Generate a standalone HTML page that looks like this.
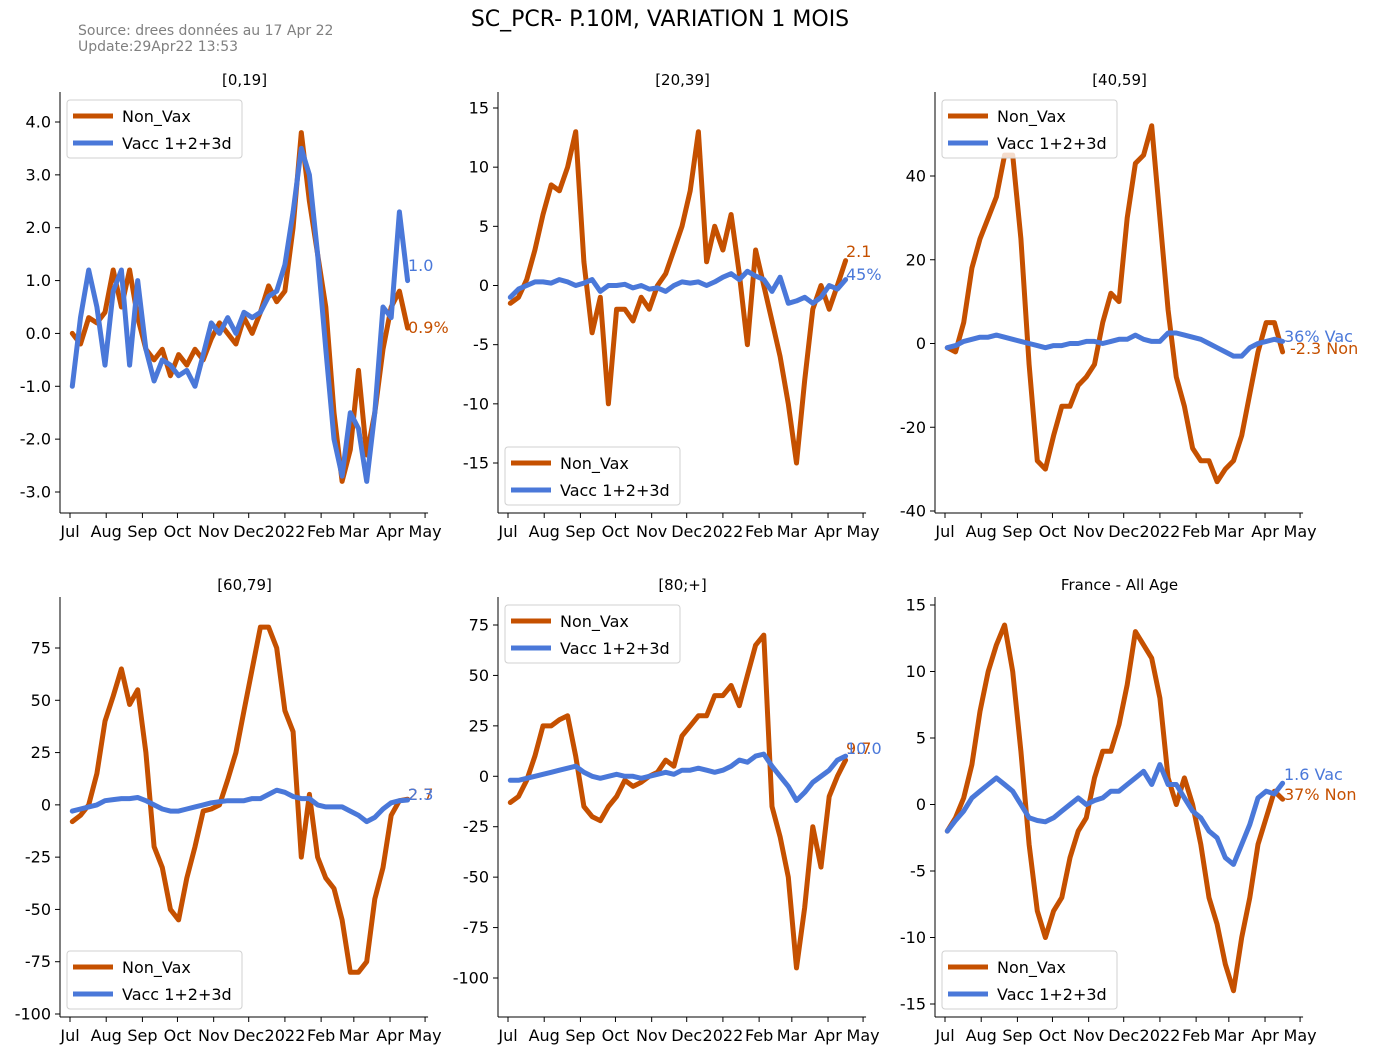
<!DOCTYPE html>
<html><head><meta charset="utf-8">
<style>
body{margin:0;background:#fff;}
svg text{font-family:"DejaVu Sans","Liberation Sans",sans-serif;}
</style></head>
<body>
<svg id="chart" width="1375" height="1055" xmlns="http://www.w3.org/2000/svg">
<rect width="1375" height="1055" fill="#fff"/>
<text x="660" y="26" font-size="22" text-anchor="middle" fill="#000">SC_PCR- P.10M, VARIATION 1 MOIS</text>
<text x="78" y="35" font-size="14" fill="#808080">Source: drees données au 17 Apr 22</text>
<text x="78" y="51" font-size="14" fill="#808080">Update:29Apr22 13:53</text>
</svg>
<script>
const days = [2,9,16,23,30,37,44,51,58,65,72,79,86,93,100,107,114,121,128,135,142,149,156,163,170,177,184,191,198,205,212,219,226,233,240,247,254,261,268,275,282,289];
const monthLabels = ["Jul","Aug","Sep","Oct","Nov","Dec","2022","Feb","Mar","Apr","May"];
const monthDays = [0,31,62,92,123,153,184,215,243,274,304];
const nonVax0 = [0,-0.2,0.3,0.2,0.4,1.2,0.5,1.2,0.3,-0.3,-0.5,-0.3,-0.8,-0.4,-0.6,-0.3,-0.5,-0.1,0.2,0,-0.2,0.3,0,0.4,0.9,0.6,0.8,2.0,3.8,2.5,1.5,0.5,-1.5,-2.8,-2.2,-0.7,-2.3,-1.5,-0.3,0.5,0.8,0.1];
const vacc0 = [-1,0.3,1.2,0.5,-0.6,0.8,1.2,-0.6,1.0,-0.3,-0.9,-0.5,-0.6,-0.8,-0.7,-1.0,-0.4,0.2,0,0.3,0,0.4,0.3,0.4,0.7,0.8,1.3,2.3,3.5,3.0,1.5,-0.3,-2.0,-2.7,-1.5,-1.8,-2.8,-1.5,0.5,0.3,2.3,1.0];
const nonVax1 = [-1.5,-1,0.5,3,6,8.5,8,10,13,2,-4,-1,-10,-2,-2,-3,-1,-2,0,1,3,5,8,13,2,5,3,6,1,-5,3,0,-3,-6,-10,-15,-8,-2,0,-2,0,2.1];
const vacc1 = [-1,-0.3,0,0.3,0.3,0.2,0.5,0.3,0,0.2,0.5,-0.5,0,0,0.1,-0.2,0,-0.3,-0.2,-0.5,0,0.3,0.2,0.3,0,0.3,0.7,1.0,0.5,1.2,0.8,0.5,-0.5,0.7,-1.5,-1.3,-1.0,-1.5,-1,0,-0.3,0.5];
const nonVax2 = [-1,-2,5,18,25,30,35,45,45,25,-5,-28,-30,-22,-15,-15,-10,-8,-5,5,12,10,30,43,45,52,30,8,-8,-15,-25,-28,-28,-33,-30,-28,-22,-12,-2,5,5,-2];
const vacc2 = [-1,-0.5,0.5,1,1.5,1.5,2,1.5,1,0.5,0,-0.5,-1,-0.5,-0.5,0,0,0.5,0.5,0,0.5,1,1,2,1,0.5,0.5,2.5,2.5,2,1.5,1,0,-1,-2,-3,-3,-1,0,0.5,1,0.5];
const nonVax3 = [-8,-5,0,15,40,52,65,48,55,25,-20,-30,-50,-55,-35,-20,-3,-2,0,12,25,45,65,85,85,75,45,35,-25,5,-25,-35,-40,-55,-80,-80,-75,-45,-30,-5,2,2.7];
const vacc3 = [-3,-2,-1,0,2,2.5,3,3,3.5,2,0,-2,-3,-3,-2,-1,0,1,1.5,2,2,2,3,3,5,7,6,4,3,3,0,-1,-1,-1,-3,-5,-8,-6,-2,1,2,2.3];
const nonVax4 = [-13,-10,-2,10,25,25,28,30,10,-15,-20,-22,-15,-10,-2,-5,-3,0,2,8,5,20,25,30,30,40,40,45,35,50,65,70,-15,-30,-50,-95,-65,-25,-45,-10,0,8];
const vacc4 = [-2,-2,-1,0,1,2,3,4,5,2,0,-1,0,1,0,0,-1,0,1,2,1,3,3,4,3,2,3,5,8,7,10,11,5,0,-5,-12,-8,-3,0,3,8,10];
const nonVax5 = [-2,-1,0.5,3,7,10,12,13.5,10,4,-3,-8,-10,-8,-7,-4,-2,-1,2,4,4,6,9,13,12,11,8,2,0,2,0,-3,-7,-9,-12,-14,-10,-7,-3,-1,1,0.4];
const vacc5 = [-2,-1.2,-0.5,0.5,1,1.5,2,1.5,1,0,-1,-1.2,-1.3,-1,-0.5,0,0.5,0,0.3,0.5,1,1,1.5,2,2.5,1.5,3,1.5,1.5,0.5,-0.5,-1,-2,-2.5,-4,-4.5,-3,-1.5,0.5,1,0.8,1.6];
const panelTitles = ["[0,19]","[20,39]","[40,59]","[60,79]","[80;+]","France - All Age"];
const yTicks = [[4,3,2,1,0,-1,-2,-3],[15,10,5,0,-5,-10,-15],[40,20,0,-20,-40],[75,50,25,0,-25,-50,-75,-100],[75,50,25,0,-25,-50,-75,-100],[15,10,5,0,-5,-10,-15]];
const yTickLabels = [["4.0","3.0","2.0","1.0","0.0","-1.0","-2.0","-3.0"],["15","10","5","0","-5","-10","-15"],["40","20","0","-20","-40"],["75","50","25","0","-25","-50","-75","-100"],["75","50","25","0","-25","-50","-75","-100"],["15","10","5","0","-5","-10","-15"]];
const endLabelsNon = ["0.9%","2.1","-2.3 Non","2.7","9.7","37% Non"];
const endLabelsVac = ["1.0","45%","36% Vac","2.3","10.0","1.6 Vac"];
const nonSeries = [nonVax0,nonVax1,nonVax2,nonVax3,nonVax4,nonVax5];
const vacSeries = [vacc0,vacc1,vacc2,vacc3,vacc4,vacc5];

const ORANGE="#c55000", BLUE="#4a78d9";
const NS="http://www.w3.org/2000/svg";
const svg=document.getElementById('chart');
function mk(tag,attrs,parent){const e=document.createElementNS(NS,tag);for(const k in attrs)e.setAttribute(k,attrs[k]);(parent||svg).appendChild(e);return e;}

const layout=[
 [60,70,92,513,4,122,-3,492],
 [498,508,92,513,15,108,-15,463],
 [935,945,92,513,40,176,-40,511],
 [60,70,597,1017,75,648,-100,1014],
 [498,508,597,1017,75,625,-100,978],
 [935,945,597,1017,15,605,-15,1004]
];
const legendPos=["top","bottom","top","bottom","top","bottom"];
const endPos=[[408,333,408,271],[846,257,846,280],[1290,354,1284,342],[408,800,408,800],[846,754,846,754],[1284,800,1284,780]];

layout.forEach((L,p)=>{
  const [sl,jx,top,bot,v1,p1,v2,p2]=L;
  const g=mk('g',{});
  
  
  const xs=d=>jx+d*1.168;
  const ys=v=>p1+(v-v1)*(p2-p1)/(v2-v1);
  const t=mk('text',{x:(sl+xs(304))/2+2,y:top-7,'font-size':15,'text-anchor':'middle',fill:'#000'},g);
  t.textContent=panelTitles[p];
  
  
  const sp1=mk('line',{x1:sl,y1:top,x2:sl,y2:bot,stroke:'#000','stroke-width':1},g);
  
  
  const sp2=mk('line',{x1:sl,y1:bot,x2:xs(304)+3,y2:bot,stroke:'#000','stroke-width':1},g);
  
  
  yTicks[p].forEach((v,i)=>{
    const y=ys(v);
    mk('line',{x1:sl-5,y1:y,x2:sl,y2:y,stroke:'#000'},g);
    const tl=mk('text',{x:sl-9,y:y+5.5,'font-size':16,'text-anchor':'end',fill:'#000'},g);
    tl.textContent=yTickLabels[p][i];
    
    
  });
  monthDays.forEach((d,i)=>{
    const x=xs(d);
    mk('line',{x1:x,y1:bot,x2:x,y2:bot+5,stroke:'#000'},g);
    const tl=mk('text',{x:x,y:bot+24,'font-size':16,'text-anchor':'middle',fill:'#000'},g);
    tl.textContent=monthLabels[i];
    
    
  });
  const lineFor=(arr,col,name)=>{
    const pts=arr.map((v,i)=>xs(days[i]).toFixed(1)+','+ys(v).toFixed(1)).join(' ');
    const pl=mk('polyline',{points:pts,fill:'none',stroke:col,'stroke-width':5,'stroke-linejoin':'round','stroke-linecap':'round'},g);
    
    
  };
  lineFor(nonSeries[p],ORANGE,'non-vax-line');
  lineFor(vacSeries[p],BLUE,'vacc-line');
  const E=endPos[p];
  const en=mk('text',{x:E[0],y:E[1],'font-size':16,fill:ORANGE},g);
  en.textContent=endLabelsNon[p];
  
  
  const ev=mk('text',{x:E[2],y:E[3],'font-size':16,fill:BLUE},g);
  ev.textContent=endLabelsVac[p];
  
  
  const lx=sl+7, ly=legendPos[p]==='top'?top+8:bot-66;
  const lg=mk('g',{},g);
  
  
  mk('rect',{x:lx,y:ly,width:175,height:58,rx:3,fill:'#fff','fill-opacity':0.8,stroke:'#d0d0d0'},lg);
  [[ORANGE,'Non_Vax'],[BLUE,'Vacc 1+2+3d']].forEach((e,i)=>{
    const yy=ly+16+i*27;
    const ln=mk('line',{x1:lx+6,y1:yy,x2:lx+46,y2:yy,stroke:e[0],'stroke-width':5},lg);
    
    
    const tx=mk('text',{x:lx+55,y:yy+6,'font-size':16,fill:'#000'},lg);
    tx.textContent=e[1];
    
    
  });
});
</script>
</body></html>
